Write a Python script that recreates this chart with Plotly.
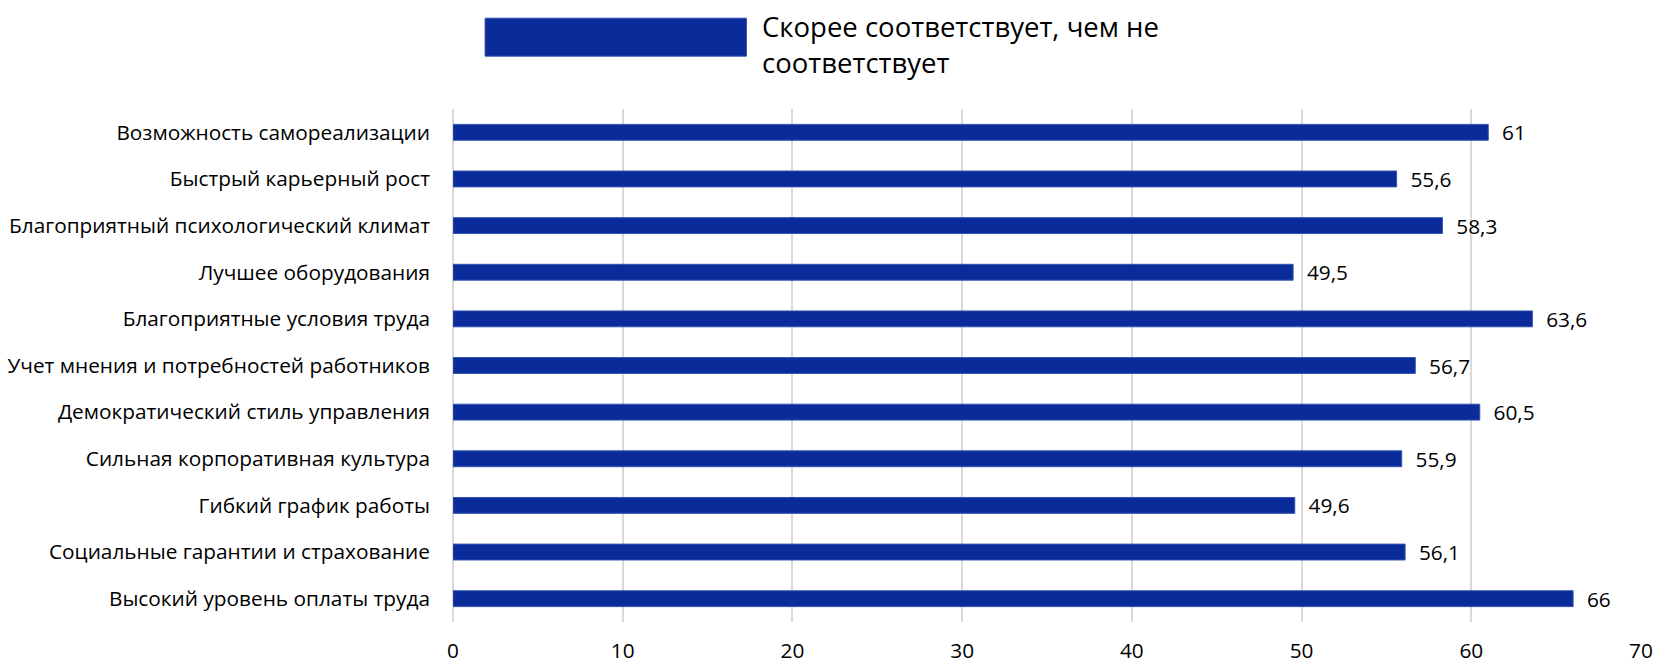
import plotly.graph_objects as go

categories = [
    "Возможность самореализации",
    "Быстрый карьерный рост",
    "Благоприятный психологический климат",
    "Лучшее оборудования",
    "Благоприятные условия труда",
    "Учет мнения и потребностей работников",
    "Демократический стиль управления",
    "Сильная корпоративная культура",
    "Гибкий график работы",
    "Социальные гарантии и страхование",
    "Высокий уровень оплаты труда",
]
values = [61, 55.6, 58.3, 49.5, 63.6, 56.7, 60.5, 55.9, 49.6, 56.1, 66]
series_name = "Скорее соответствует, чем не<br>соответствует"
tick_vals = [0, 10, 20, 30, 40, 50, 60, 70]

BAR = "#0a2c9a"
FONT = "Open Sans"
FS = 20.8

labels = [str(v).replace(".", ",") for v in values]

fig = go.Figure()
fig.add_trace(go.Bar(
    y=categories, x=values, orientation="h",
    marker=dict(color=BAR, line=dict(color="#3352b0", width=1)),
    width=0.34,
    text=labels, texttemplate="\u00a0\u00a0%{text}",
    textposition="outside", constraintext="none",
    textfont=dict(family=FONT, size=FS, color="#000000"),
    cliponaxis=False, showlegend=False, hoverinfo="x+y",
))

# legend swatch + text
fig.add_shape(type="rect", xref="paper", yref="paper",
              x0=0.027, x1=0.247, y0=1.103, y1=1.177,
              fillcolor=BAR, line=dict(color="#3352b0", width=1))
fig.add_annotation(xref="paper", yref="paper", x=0.258, y=1.126,
                   xanchor="left", yanchor="middle", align="left",
                   text=series_name, showarrow=False,
                   font=dict(family=FONT, size=27.5, color="#000000"))

fig.update_layout(
    width=1655, height=663,
    margin=dict(l=453, r=14, t=109, b=41, autoexpand=False),
    paper_bgcolor="white", plot_bgcolor="white",
    font=dict(family=FONT, size=FS, color="#000000"),
)
fig.update_xaxes(range=[0, 70], tickvals=tick_vals, showgrid=True,
                 gridcolor="#d9d9d9", gridwidth=2, zeroline=True,
                 zerolinecolor="#d9d9d9", zerolinewidth=2, showline=False,
                 ticks="", tickfont=dict(family=FONT, size=FS),
                 ticklabelstandoff=14, automargin=False)
fig.update_yaxes(autorange="reversed", showgrid=False, ticks="",
                 tickfont=dict(family=FONT, size=FS), ticklabelstandoff=22,
                 automargin=False)

fig.write_html("out.html", config={"displayModeBar": False},
               post_script="document.body.style.margin='0';document.body.style.overflow='hidden';")
